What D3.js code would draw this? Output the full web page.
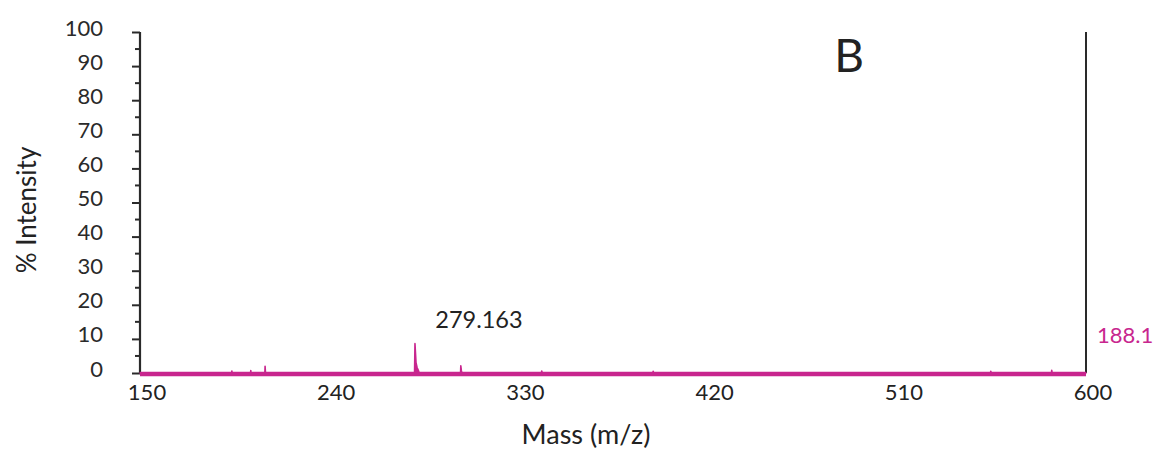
<!DOCTYPE html>
<html>
<head>
<meta charset="utf-8">
<script src="https://cdn.jsdelivr.net/npm/d3@7"></script>
<style>
    body { margin: 0; background: #fff; }
    svg text { font-family: "Lato", "Open Sans", sans-serif; fill: #222; }
</style>
</head>
<body>
<svg width="1156" height="453"></svg>
<script>
// spectrum: [m/z, % intensity]
const peaks = [
    [150, 0], [193.6, 0], [193.7, 0.6], [193.8, 0],
    [202.6, 0], [202.7, 0.7], [202.8, 0],
    [209.4, 0], [209.5, 2.0], [209.7, 0],
    [280.6, 0], [280.8, 8.6], [281.3, 3.0], [281.8, 1.6], [282.4, 0.8], [282.8, 0],
    [302.5, 0], [302.6, 2.1], [302.9, 0.6], [303.1, 0],
    [341.0, 0], [341.1, 0.6], [341.3, 0],
    [394.0, 0], [394.1, 0.5], [394.3, 0],
    [554.6, 0], [554.7, 0.5], [554.9, 0],
    [583.6, 0], [583.7, 0.8], [583.9, 0],
    [600, 0]
];
const noiseFloor = [[150, -0.3], [600, -0.3]];
const xTicks = [150, 240, 330, 420, 510, 600];
const yTicks = [0, 10, 20, 30, 40, 50, 60, 70, 80, 90, 100];
const yMinor = [5, 15, 25, 35, 45, 55, 65, 75, 85, 95];
const basePeakLabel = "279.163";
const basePeakMz = 280.8, basePeakInt = 8.6;
const absIntensity = "188.1";

const magenta = "#c8268e";
const ink = "#2a2a2a";

const svg = d3.select("svg");

const x = d3.scaleLinear().domain([150, 600]).range([140, 1086]);
const y = d3.scaleLinear().domain([0, 100]).range([373, 32]);

// y axis
const yAxis = svg.append("g").attr("transform", "translate(140,0)");
yAxis.call(d3.axisLeft(y).tickValues(yTicks).tickSize(8).tickFormat(d3.format("d")));
yAxis.select(".domain").attr("stroke", ink).attr("stroke-width", 2.2)
    .attr("d", `M0,${y(0)}V${y(100)}`);
yAxis.selectAll(".tick line").attr("stroke", ink).attr("stroke-width", 2);
yAxis.selectAll(".tick text")
    .attr("x", -37).attr("dy", "0.32em").attr("y", -4)
    .style("font-size", "22px").style("fill", ink).attr("fill", ink);

yAxis.selectAll(".minor")
    .data(yMinor)
    .enter().append("line")
    .attr("class", "minor")
    .attr("x1", -5).attr("x2", 0)
    .attr("y1", d => y(d)).attr("y2", d => y(d))
    .attr("stroke", ink).attr("stroke-width", 2);

// right frame line
svg.append("line")
    .attr("x1", x(600)).attr("x2", x(600))
    .attr("y1", y(0)).attr("y2", y(100))
    .attr("stroke", ink).attr("stroke-width", 2);

// x tick labels (no tick marks)
svg.selectAll(".xlab")
    .data(xTicks)
    .enter().append("text")
    .attr("class", "xlab")
    .attr("x", d => x(d) + 7)
    .attr("y", 400)
    .attr("text-anchor", "middle")
    .style("font-size", "22px")
    .text(d => d);

// spectrum
svg.append("path")
    .datum(noiseFloor)
    .attr("fill", "none")
    .attr("stroke", magenta)
    .attr("stroke-width", 4.5)
    .attr("d", d3.line().x(d => x(d[0])).y(d => y(d[1])));

svg.append("path")
    .datum(peaks)
    .attr("fill", magenta)
    .attr("stroke", magenta)
    .attr("stroke-width", 1.6)
    .attr("stroke-linejoin", "round")
    .attr("d", d3.area().x(d => x(d[0])).y0(y(0)).y1(d => y(d[1])));

// annotations
svg.append("text")
    .attr("x", x(basePeakMz) + 64)
    .attr("y", y(basePeakInt) - 16)
    .attr("text-anchor", "middle")
    .style("font-size", "23.5px")
    .text(basePeakLabel);

svg.append("text")
    .attr("x", x(600) + 11)
    .attr("y", 343)
    .style("font-size", "22px")
    .style("fill", magenta)
    .text(absIntensity);

svg.append("text")
    .attr("x", 849)
    .attr("y", 72)
    .attr("text-anchor", "middle")
    .style("font-size", "46px")
    .text("B");

// axis titles
svg.append("text")
    .attr("x", 586)
    .attr("y", 444)
    .attr("text-anchor", "middle")
    .style("font-size", "27px")
    .text("Mass (m/z)");

svg.append("text")
    .attr("transform", "translate(36,210) rotate(-90)")
    .attr("text-anchor", "middle")
    .style("font-size", "26px")
    .text("% Intensity");
</script>
</body>
</html>
